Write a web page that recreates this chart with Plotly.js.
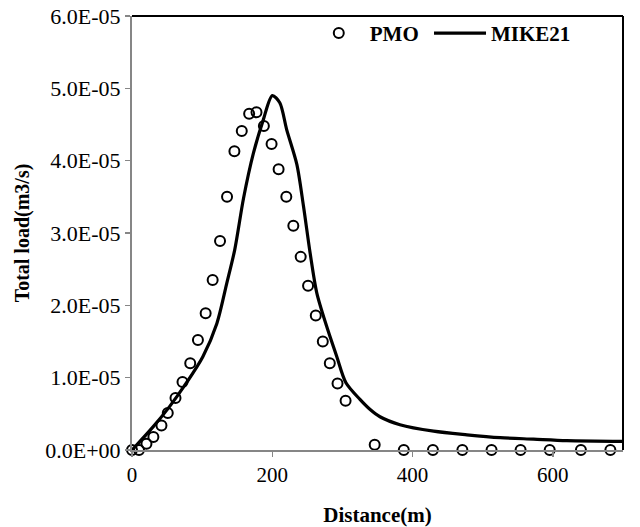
<!DOCTYPE html>
<html>
<head>
<meta charset="utf-8">
<script src="https://cdn.plot.ly/plotly-3.0.1.min.js"></script>
<style>html,body{margin:0;padding:0;background:#fff;}#chart{width:640px;height:527px;}</style>
</head>
<body>
<div id="chart"></div>
<script>
// PMO observations (distance in m, total load in m3/s)
const pmoX = [0, 10, 20.6, 30.5, 42, 51, 62, 72, 83, 94, 105, 115, 125.5, 135.5, 146, 156.5, 167, 177.5, 188, 199, 209, 220, 230, 240.5, 251, 262, 272, 282, 293, 304.5, 346, 387.5, 429, 471, 512.6, 554, 595.5, 640, 682];
const pmoY = [0, 0, 0.087e-5, 0.18e-5, 0.34e-5, 0.51e-5, 0.72e-5, 0.94e-5, 1.2e-5, 1.52e-5, 1.89e-5, 2.35e-5, 2.89e-5, 3.5e-5, 4.13e-5, 4.41e-5, 4.65e-5, 4.67e-5, 4.48e-5, 4.23e-5, 3.88e-5, 3.5e-5, 3.1e-5, 2.67e-5, 2.27e-5, 1.86e-5, 1.5e-5, 1.2e-5, 0.92e-5, 0.68e-5, 0.073e-5, 0, 0, 0, 0, 0, 0, 0, 0];

// MIKE21 model result
const mikeX = [0, 30, 53.5, 77, 101, 121, 135, 146.5, 159, 173, 187, 200, 210.7, 220.5, 235, 244.5, 254, 263.5, 277.5, 292, 305, 325, 339.5, 353.5, 382, 430, 477.5, 525, 572.5, 620, 700];
const mikeY = [0, 0.32e-5, 0.6e-5, 0.92e-5, 1.29e-5, 1.75e-5, 2.3e-5, 2.77e-5, 3.48e-5, 4.1e-5, 4.56e-5, 4.9e-5, 4.8e-5, 4.43e-5, 3.95e-5, 3.37e-5, 2.72e-5, 2.17e-5, 1.71e-5, 1.29e-5, 0.93e-5, 0.7e-5, 0.56e-5, 0.46e-5, 0.35e-5, 0.26e-5, 0.21e-5, 0.17e-5, 0.15e-5, 0.13e-5, 0.12e-5];

// Axis ticks
const yTickVals = [0, 1e-5, 2e-5, 3e-5, 4e-5, 5e-5, 6e-5];
const yTickText = ["0.0E+00", "1.0E-05", "2.0E-05", "3.0E-05", "4.0E-05", "5.0E-05", "6.0E-05"];
const xTickVals = [0, 200, 400, 600];

const serif = '"Liberation Serif", "Times New Roman", "DejaVu Serif", serif';

const traces = [
  {
    x: pmoX, y: pmoY, name: "PMO\u00a0", type: "scatter", mode: "markers",
    cliponaxis: false,
    marker: {symbol: "circle-open", size: 10, color: "#000", line: {width: 2, color: "#000"}}
  },
  {
    x: mikeX, y: mikeY, name: "MIKE21", type: "scatter", mode: "lines",
    line: {color: "#000", width: 3.2, shape: "spline", smoothing: 0.8}
  }
];

const layout = {
  width: 640, height: 527,
  margin: {l: 132, r: 17, t: 16, b: 77},
  paper_bgcolor: "#fff", plot_bgcolor: "#fff",
  font: {family: serif, color: "#000", size: 20},
  showlegend: true,
  legend: {
    orientation: "h", x: 0.358, y: 1.007, xanchor: "left", yanchor: "top",
    bgcolor: "rgba(0,0,0,0)", itemwidth: 52,
    font: {family: serif, size: 21, color: "#000", weight: "bold"}
  },
  xaxis: {
    range: [0, 700], tickvals: xTickVals, ticks: "outside", ticklen: 5, tickwidth: 1.5, tickcolor: "#868686",
    showline: true, linecolor: "#868686", linewidth: 2, showgrid: false, zeroline: false,
    tickfont: {family: serif, size: 21, color: "#000"},
    title: {text: "<b>Distance(m)</b>", font: {family: serif, size: 21, color: "#000"}, standoff: 22}
  },
  yaxis: {
    range: [0, 6e-5], tickvals: yTickVals, ticktext: yTickText, ticks: "outside", ticklen: 5, tickwidth: 1.5, tickcolor: "#868686",
    showline: true, linecolor: "#868686", linewidth: 2, showgrid: false, zeroline: false,
    tickfont: {family: serif, size: 22, color: "#000"},
    title: {text: "<b>Total load(m3/s)</b>", font: {family: serif, size: 20, color: "#000"}, standoff: 10}
  },
  shapes: [
    {type: "line", xref: "paper", yref: "paper", x0: 0, x1: 1, y0: 1, y1: 1, line: {color: "#000", width: 2}},
    {type: "line", xref: "paper", yref: "paper", x0: 1, x1: 1, y0: 0, y1: 1, line: {color: "#000", width: 2}}
  ]
};

Plotly.newPlot("chart", traces, layout, {displayModeBar: false, staticPlot: true});
</script>
</body>
</html>
